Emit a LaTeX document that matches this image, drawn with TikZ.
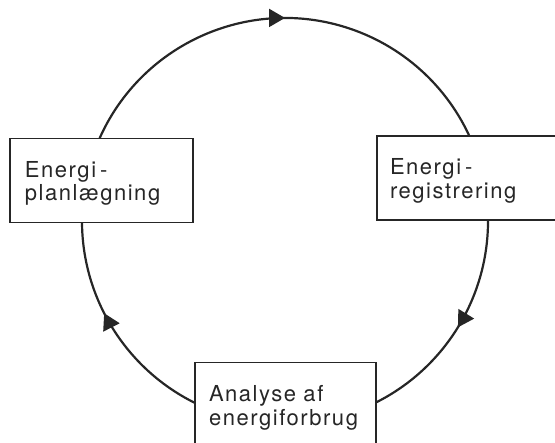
\documentclass[tikz,border=0pt]{standalone}
\usepackage{fontspec}
\newfontfamily\stagefont[LetterSpace=7]{TeX Gyre Heros}
\usetikzlibrary{arrows.meta,decorations.markings,backgrounds}
\definecolor{ink}{HTML}{262626}

\tikzset{
  stage/.style={draw=ink, line width=1.3bp, fill=white, text=ink, align=left,
    minimum height=84bp, inner ysep=0pt,
    execute at begin node=\rule{0pt}{22bp},
    font=\stagefont\fontsize{22bp}{23.4bp}\selectfont},
  flow/.style={draw=ink, line width=2.2bp, postaction={decorate},
    decoration={markings,
      mark=at position #1 with {\arrow{Triangle[length=16bp,width=18bp]}}}}
}

\begin{document}
\begin{tikzpicture}[x=1bp,y=1bp]
  \useasboundingbox (0,0) rectangle (555,443);
  \coordinate (hub) at (285,222);
  % the three stages
  \node[stage, text width=153bp, inner xsep=15bp] (plan) at (101.5,262.5) {Energi\kern4bp-\\planlægning};
  \node[stage, text width=157bp, inner xsep=13bp] (reg) at (468.5,265) {Energi\kern4bp-\\registrering};
  \node[stage, text width=153bp, inner xsep=14bp, minimum height=85bp] (analyse) at (285.5,38) {Analyse af\\energiforbrug};
  % points on the cycle, hidden under the boxes
  \path (hub) ++(160:203) coordinate (planout);
  \path (hub) ++(5:203) coordinate (regout);
  \path (hub) ++(-110:203) coordinate (analyseout);
  % the cycle
  \begin{scope}[on background layer]
    \draw[flow=0.5] (planout) arc[start angle=160, end angle=20, radius=203];
    \draw[flow=0.488] (regout) arc[start angle=5, end angle=-70, radius=203];
    \draw[flow=0.573] (analyseout) arc[start angle=-110, end angle=-185, radius=203];
  \end{scope}
\end{tikzpicture}
\end{document}
